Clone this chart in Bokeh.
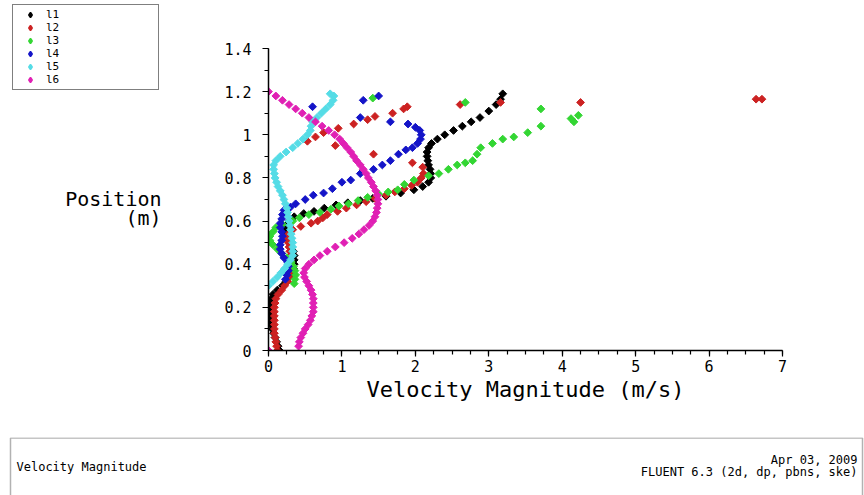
from bokeh.plotting import figure
from bokeh.layouts import row, column
from bokeh.models import (Label, Legend, LegendItem, BoxAnnotation, FixedTicker,
                          NumeralTickFormatter, Range1d)
from bokeh.embed import file_html
from bokeh.resources import INLINE
import math

# ---------------- data (velocity magnitude [m/s] vs position [m]) ----------------
series_names = ["l1", "l2", "l3", "l4", "l5", "l6"]

l1_pos = [0.00,0.02,0.04,0.06,0.08,0.10,0.12,0.14,0.16,0.18,0.20,0.22,0.24,0.26,0.28,0.30,0.32,0.34,0.36,0.38,
          0.40,0.42,0.44,0.46,0.48,0.50,0.52,0.54,0.56,0.58,0.60,0.62,0.635,0.645,0.66,0.675,0.685,0.695,0.705,0.715,
          0.73,0.745,0.76,0.78,0.80,0.82,0.84,0.86,0.88,0.90,0.92,0.94,0.96,0.98,1.00,1.02,1.04,1.06,1.08,1.11,
          1.14,1.165,1.19]
l1_vel = [0.15,0.13,0.11,0.09,0.07,0.05,0.04,0.03,0.02,0.02,0.02,0.03,0.04,0.06,0.12,0.19,0.24,0.28,0.31,0.34,
          0.35,0.35,0.35,0.34,0.31,0.29,0.26,0.24,0.22,0.24,0.28,0.35,0.48,0.62,0.76,0.92,1.08,1.25,1.42,1.60,
          1.80,1.98,2.10,2.18,2.21,2.21,2.20,2.18,2.17,2.16,2.16,2.18,2.22,2.30,2.40,2.52,2.64,2.76,2.88,3.00,
          3.10,3.16,3.19]

l2_pos = [0.00,0.02,0.04,0.06,0.08,0.10,0.12,0.14,0.16,0.18,0.20,0.22,0.24,0.26,0.28,0.30,0.32,0.34,0.36,0.38,
          0.40,0.42,0.44,0.46,0.48,0.50,0.52,0.54,0.56,
          0.575,0.59,0.60,0.615,0.63,0.645,0.66,0.675,0.69,0.705,0.72,0.735,0.75,0.765,0.78,0.80,0.82,0.85,0.87,0.91,
          0.95,0.97,0.99,1.01,1.03,1.05,1.07,1.085,1.10,1.12,1.13,1.14,1.15,1.15,1.165,1.165]
l2_vel = [0.12,0.11,0.10,0.09,0.08,0.08,0.08,0.08,0.08,0.08,0.08,0.09,0.10,0.13,0.18,0.22,0.26,0.28,0.29,0.30,
          0.30,0.30,0.30,0.29,0.28,0.27,0.26,0.27,0.33,
          0.44,0.58,0.67,0.74,0.80,0.94,1.06,1.20,1.33,1.45,1.60,1.72,1.85,1.95,2.03,2.08,2.11,2.10,1.96,1.43,
          0.91,0.53,0.64,0.75,0.95,1.16,1.35,1.45,1.69,1.84,1.89,2.61,3.16,4.25,6.64,6.72]

l3_pos = [0.31,0.33,0.35,0.37,0.39,0.41,0.43,0.45,0.47,0.49,0.51,0.53,0.55,0.57,0.585,0.60,0.615,0.63,0.64,0.655,
          0.67,0.68,0.695,0.71,0.725,0.735,0.745,0.77,0.79,0.81,0.82,0.84,0.86,0.87,0.88,0.91,0.94,0.96,0.98,0.99,
          1.01,1.04,1.06,1.075,1.09,1.12,1.15,1.17]
l3_vel = [0.35,0.36,0.37,0.36,0.34,0.31,0.25,0.18,0.12,0.06,0.02,0.02,0.06,0.10,0.19,0.33,0.42,0.55,0.70,0.85,
          0.96,1.09,1.22,1.35,1.50,1.63,1.76,1.85,1.98,2.18,2.32,2.45,2.57,2.68,2.78,2.84,2.89,3.05,3.19,3.34,
          3.53,3.71,4.16,4.12,4.22,3.71,2.68,1.42]

l4_pos = [0.33,0.35,0.37,0.39,0.41,0.43,0.45,0.47,0.49,0.51,0.53,0.55,0.57,0.59,0.61,0.63,0.65,0.665,0.68,0.70,
          0.72,0.73,0.75,0.78,0.79,0.82,0.84,0.86,0.88,0.91,0.93,0.94,0.96,0.98,1.00,1.02,1.035,1.05,1.06,1.08,
          1.13,1.16,1.18]
l4_vel = [0.23,0.25,0.27,0.27,0.26,0.21,0.18,0.16,0.16,0.18,0.19,0.18,0.16,0.16,0.18,0.19,0.21,0.30,0.37,0.50,
          0.61,0.75,0.87,1.00,1.12,1.25,1.43,1.55,1.66,1.77,1.87,1.96,2.03,2.07,2.08,2.06,2.00,1.90,1.66,1.25,
          0.60,1.29,1.50]

l5_pos = [0.30,0.32,0.34,0.36,0.38,0.40,0.42,0.44,0.46,0.48,0.50,0.52,0.54,0.56,0.58,0.60,0.62,0.64,0.66,0.68,
          0.70,0.72,0.74,0.76,0.78,0.80,0.82,0.84,0.86,0.88,0.90,0.92,0.94,0.96,0.98,1.00,1.02,1.04,1.06,1.08,
          1.10,1.12,1.14,1.16,1.18,1.19]
l5_vel = [0.00,0.06,0.12,0.17,0.22,0.26,0.30,0.33,0.33,0.33,0.33,0.32,0.31,0.30,0.29,0.28,0.27,0.26,0.25,0.23,
          0.21,0.19,0.16,0.13,0.11,0.09,0.08,0.07,0.07,0.10,0.16,0.24,0.33,0.40,0.47,0.53,0.57,0.58,0.60,0.66,
          0.72,0.78,0.84,0.88,0.89,0.84]

l6_pos = [0.00,0.02,0.04,0.06,0.08,0.10,0.12,0.14,0.16,0.18,0.20,0.22,0.24,0.26,0.28,0.30,0.32,0.34,0.36,0.38,
          0.40,0.42,0.44,0.46,0.48,0.50,0.52,0.54,0.56,0.58,0.60,0.62,0.64,0.66,0.68,0.70,0.72,0.74,0.76,0.78,
          0.80,0.82,0.84,0.86,0.88,0.90,0.92,0.94,0.96,0.98,1.00,1.02,1.04,1.06,1.08,1.10,1.12,1.14,1.16,1.18,
          1.20]
l6_vel = [0.00,0.41,0.42,0.44,0.47,0.50,0.54,0.57,0.59,0.61,0.61,0.61,0.61,0.60,0.58,0.55,0.52,0.49,0.48,0.50,
          0.55,0.62,0.70,0.80,0.91,1.03,1.14,1.23,1.30,1.37,1.42,1.45,1.47,1.48,1.49,1.49,1.48,1.46,1.43,1.40,
          1.36,1.33,1.29,1.25,1.20,1.16,1.12,1.07,1.02,0.97,0.90,0.82,0.73,0.64,0.55,0.46,0.37,0.28,0.19,0.10,
          0.00]

x_ticks = [0, 1, 2, 3, 4, 5, 6, 7]
y_ticks = [0, 0.2, 0.4, 0.6, 0.8, 1.0, 1.2, 1.4]

colors = ["#000000", "#cc2222", "#33d633", "#1414c8", "#55dce6", "#e020b4"]

# ---------------- layout constants (canvas pixels) ----------------
W, H = 864, 495
LEFT_W = 200          # width of the left strip (legend + y title)
TOP_H = 437           # height of the plot part (footer below)
FL, FR, FT, FB = 268, 782, 48, 350   # axes extents on the page
XMAX, YMAX = 7.0, 1.4
Y_TOP = YMAX * FB / (FB - FT)        # value at the very top of the page (frame reaches the top)
MONO = "DejaVu Sans Mono"

pos = [l1_pos, l2_pos, l3_pos, l4_pos, l5_pos, l6_pos]
vel = [l1_vel, l2_vel, l3_vel, l4_vel, l5_vel, l6_vel]

# ---------------- left strip: legend and y-axis title ----------------
left = figure(width=LEFT_W, height=TOP_H, x_range=Range1d(0, LEFT_W), y_range=Range1d(FB, 0),
              output_backend="svg", toolbar_location=None, title=None,
              x_axis_location=None, y_axis_location=None,
              min_border_left=0, min_border_right=0, min_border_top=0,
              min_border_bottom=TOP_H - FB)
left.outline_line_color = None
left.xgrid.visible = False
left.ygrid.visible = False
left.background_fill_color = "white"
left.border_fill_color = "white"

items = []
for name, xs, ys, c in zip(series_names, vel, pos, colors):
    # hidden copy of each series: only its legend swatch is shown here
    rr = left.scatter(xs, ys, marker="diamond", size=6,
                      fill_color=c, line_color=c, line_width=1.5, visible=False)
    items.append(LegendItem(label=name, renderers=[rr]))

leg_top, leg_h = 6, 84
legend = Legend(items=items, location=(12, FB - (leg_top + leg_h)),
                orientation="vertical", padding=3, spacing=0, margin=0,
                glyph_width=28, glyph_height=13, label_height=13, label_width=109,
                label_standoff=2, label_text_font=MONO, label_text_font_size="11px",
                label_text_color="black", click_policy="none",
                inactive_fill_alpha=0.0,
                border_line_color="black", border_line_width=1,
                background_fill_color="white", background_fill_alpha=1.0)
left.add_layout(legend, "center")

left.add_layout(Label(x=161, y=198, text="Position", text_align="right",
                      text_baseline="middle", text_font=MONO, text_font_size="20px",
                      text_color="black"))
left.add_layout(Label(x=161, y=217, text="(m)", text_align="right",
                      text_baseline="middle", text_font=MONO, text_font_size="20px",
                      text_color="black"))

# ---------------- main plot ----------------
p = figure(width=W - LEFT_W, height=TOP_H, x_range=(0, XMAX), y_range=(0, Y_TOP),
           output_backend="svg", toolbar_location=None, title=None,
           min_border_left=FL - LEFT_W, min_border_right=W - FR,
           min_border_top=0, min_border_bottom=TOP_H - FB)
p.background_fill_color = "white"
p.border_fill_color = "white"
p.outline_line_color = None
p.xgrid.visible = False
p.ygrid.visible = False

p.xaxis.ticker = FixedTicker(ticks=x_ticks, minor_ticks=[i * 0.25 for i in range(29)])
p.yaxis.ticker = FixedTicker(ticks=y_ticks, minor_ticks=[i * 0.1 for i in range(15)])
p.yaxis.formatter = NumeralTickFormatter(format="0.[0]")
p.yaxis.bounds = (0, YMAX)
for ax in (p.xaxis[0], p.yaxis[0]):
    ax.axis_line_color = "black"
    ax.axis_line_width = 1.5
    ax.major_tick_line_color = "black"
    ax.minor_tick_line_color = "black"
    ax.major_tick_line_width = 1.2
    ax.minor_tick_line_width = 1.2
    ax.major_tick_in = 0
    ax.major_tick_out = 6
    ax.minor_tick_in = 0
    ax.minor_tick_out = 4
    ax.major_label_text_font = MONO
    ax.major_label_text_font_size = "15px"
    ax.major_label_text_color = "black"
p.xaxis.major_label_standoff = 3
p.yaxis.major_label_standoff = 11
p.xaxis.axis_label = "Velocity Magnitude (m/s)"
p.xaxis.axis_label_text_font = MONO
p.xaxis.axis_label_text_font_size = "22px"
p.xaxis.axis_label_text_font_style = "normal"
p.xaxis.axis_label_text_color = "black"
p.xaxis.axis_label_standoff = 2

for name, xs, ys, c in zip(series_names, vel, pos, colors):
    p.scatter(xs, ys, marker="square", angle=math.pi / 4, size=5.5,
              fill_color=c, line_color=c, line_width=1)

# ---------------- footer ----------------
FOOT_H = H - TOP_H
foot = figure(width=W, height=FOOT_H, x_range=Range1d(0, W), y_range=Range1d(H, TOP_H),
              output_backend="svg", toolbar_location=None, title=None,
              x_axis_location=None, y_axis_location=None, min_border=0)
foot.outline_line_color = None
foot.xgrid.visible = False
foot.ygrid.visible = False
foot.background_fill_color = "white"
foot.border_fill_color = "white"
foot.add_layout(BoxAnnotation(left=10, right=862, top=437.5, bottom=505,
                              fill_color=None, fill_alpha=0, line_color="black", line_width=1.5))
foot.add_layout(Label(x=16, y=466, text="Velocity Magnitude", text_align="left",
                      text_baseline="middle", text_font=MONO, text_font_size="12px",
                      text_color="black"))
foot.add_layout(Label(x=857, y=459, text="Apr 03, 2009", text_align="right",
                      text_baseline="middle", text_font=MONO, text_font_size="12px",
                      text_color="black"))
foot.add_layout(Label(x=857, y=471, text="FLUENT 6.3 (2d, dp, pbns, ske)", text_align="right",
                      text_baseline="middle", text_font=MONO, text_font_size="12px",
                      text_color="black"))

layout = column(row(left, p, spacing=0), foot, spacing=0)
open("out.html", "w").write(file_html(layout, INLINE))
